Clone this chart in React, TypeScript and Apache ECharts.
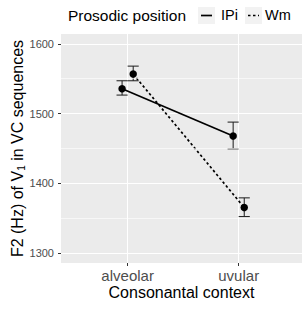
import React, { useEffect, useRef } from "react";
import * as echarts from "echarts";

const categories = ["alveolar", "uvular"];
const yTicks = [1300, 1400, 1500, 1600];
const yMinor = [1350, 1450, 1550];
const ipiMean = [1535.5, 1468];
const ipiLow = [1526.5, 1449.5];
const ipiHigh = [1547, 1487.8];
const wmMean = [1556.6, 1365.4];
const wmLow = [1547, 1352.5];
const wmHigh = [1568, 1379.3];
const dodge = 0.05;
const capHalf = 0.05;

const FONT = "'Liberation Sans', Arial, sans-serif";

export default function App() {
  const ref = useRef<HTMLDivElement>(null);
  useEffect(() => {
    const chart = echarts.init(ref.current!, null, { renderer: "svg" });
    const catPos = categories.map((_, i) => i + 1);
    const ipiPts = catPos.map((x, i) => [x - dodge, ipiMean[i]]);
    const wmPts = catPos.map((x, i) => [x + dodge, wmMean[i]]);
    const errData = [
      ...catPos.map((x, i) => [x - dodge, ipiLow[i], ipiHigh[i]]),
      ...catPos.map((x, i) => [x + dodge, wmLow[i], wmHigh[i]]),
    ];
    const option: any = {
      animation: false,
      backgroundColor: "#ffffff",
      textStyle: { fontFamily: FONT },
      grid: { left: 61, right: 1, top: 34, bottom: 46, containLabel: false, show: true, backgroundColor: "#EBEBEB", borderWidth: 0 },
      xAxis: {
        type: "value",
        min: 0.4,
        max: 2.57,
        axisLine: { show: false },
        axisTick: { show: true, length: 3, lineStyle: { color: "#333333", width: 1 }, customValues: catPos },
        axisLabel: {
          customValues: catPos,
          formatter: (v: number) => categories[Math.round(v) - 1] ?? "",
          color: "#4D4D4D",
          fontSize: 15,
          fontFamily: FONT,
          margin: 5,
        },
        splitLine: { show: true, lineStyle: { color: "#ffffff", width: 1 } },
        name: "Consonantal context",
        nameLocation: "middle",
        nameGap: 21,
        nameMoveOverlap: false,
        nameTextStyle: { color: "#000000", fontSize: 16, fontFamily: FONT },
      },
      yAxis: {
        type: "value",
        min: 1286,
        max: 1614,
        axisLine: { show: false },
        axisTick: { show: true, length: 3, lineStyle: { color: "#333333", width: 1 }, customValues: yTicks },
        axisLabel: {
          customValues: yTicks,
          formatter: (v: number) => String(v),
          color: "#4D4D4D",
          fontSize: 11,
          fontFamily: FONT,
          margin: 7,
        },
        splitLine: { show: true, lineStyle: { color: "#ffffff", width: 1 } },
        name: "F2 (Hz) of V{sub|1} in VC sequences",
        nameLocation: "middle",
        nameRotate: 90,
        nameGap: 35,
        nameMoveOverlap: false,
        nameTextStyle: {
          color: "#000000",
          fontSize: 16,
          fontFamily: FONT,
          rich: { sub: { fontSize: 10, fontFamily: FONT, color: "#000000", verticalAlign: "bottom", padding: [7, 0, 0, 0] } },
        },
      },
      series: [
        {
          type: "line",
          data: [],
          silent: true,
          z: 1,
          markLine: {
            silent: true,
            symbol: "none",
            label: { show: false },
            lineStyle: { color: "#ffffff", width: 0.6, type: "solid" },
            data: yMinor.map((v) => ({ yAxis: v })),
          },
        },
        {
          type: "custom",
          z: 3,
          data: errData,
          renderItem: (params: any, api: any) => {
            const x = api.value(0);
            const lo = api.coord([x, api.value(1)]);
            const hi = api.coord([x, api.value(2)]);
            const l = api.coord([x - capHalf, api.value(1)]);
            const r = api.coord([x + capHalf, api.value(1)]);
            const style = { stroke: "#1a1a1a", lineWidth: 1 };
            return {
              type: "group",
              children: [
                { type: "line", shape: { x1: lo[0], y1: lo[1], x2: hi[0], y2: hi[1] }, style },
                { type: "line", shape: { x1: l[0], y1: lo[1], x2: r[0], y2: lo[1] }, style },
                { type: "line", shape: { x1: l[0], y1: hi[1], x2: r[0], y2: hi[1] }, style },
              ],
            };
          },
        },
        {
          type: "line",
          name: "IPi",
          z: 4,
          data: ipiPts,
          symbol: "circle",
          symbolSize: 7.5,
          itemStyle: { color: "#000000" },
          lineStyle: { color: "#000000", width: 1.7, type: "solid" },
        },
        {
          type: "line",
          name: "Wm",
          z: 4,
          data: wmPts,
          symbol: "circle",
          symbolSize: 7.5,
          itemStyle: { color: "#000000" },
          lineStyle: { color: "#000000", width: 1.7, type: [2.5, 2.5] },
        },
      ],
      graphic: [
        { type: "text", x: 68, y: 15, style: { text: "Prosodic position", fontSize: 15.5, fontFamily: FONT, fill: "#000000", textAlign: "left", textVerticalAlign: "middle" } },
        { type: "rect", shape: { x: 198, y: 7, width: 17, height: 17 }, style: { fill: "#F2F2F2" } },
        { type: "line", shape: { x1: 201, y1: 15.5, x2: 212, y2: 15.5 }, style: { stroke: "#000000", lineWidth: 1.7 } },
        { type: "text", x: 221, y: 15, style: { text: "IPi", fontSize: 14.5, fontFamily: FONT, fill: "#000000", textAlign: "left", textVerticalAlign: "middle" } },
        { type: "rect", shape: { x: 245, y: 7, width: 17, height: 17 }, style: { fill: "#F2F2F2" } },
        { type: "line", shape: { x1: 248, y1: 15.5, x2: 259, y2: 15.5 }, style: { stroke: "#000000", lineWidth: 1.7, lineDash: [2.5, 2.5] } },
        { type: "text", x: 265, y: 15, style: { text: "Wm", fontSize: 14.5, fontFamily: FONT, fill: "#000000", textAlign: "left", textVerticalAlign: "middle" } },
      ],
    };
    chart.setOption(option);
    return () => chart.dispose();
  }, []);
  return <div ref={ref} style={{ width: 303, height: 309, position: "absolute", left: 0, top: 0 }} />;
}
